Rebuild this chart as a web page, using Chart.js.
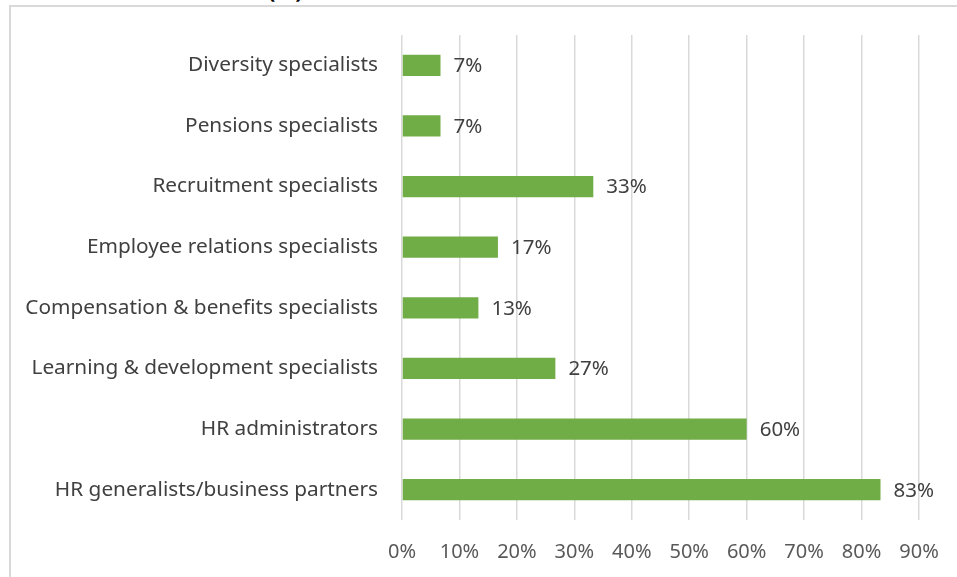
<!DOCTYPE html>
<html>
<head>
<meta charset="utf-8">
<script src="https://cdn.jsdelivr.net/npm/chart.js@4.4.1/dist/chart.umd.min.js"></script>
<style>
    html, body { margin: 0; padding: 0; background: #fff; overflow: hidden; }
    #wrap { position: relative; width: 957px; height: 577px; overflow: hidden; }
    #frame {
        position: absolute; left: 9px; top: 5px;
        width: 1000px; height: 700px;
        border: 2px solid #d9d9d9; box-sizing: border-box;
    }
    #title {
        position: absolute; left: 268px; top: -26px;
        font: bold 22px "Noto Sans", sans-serif; color: #000;
    }
    #staffChart { position: absolute; left: 0; top: 0; }
</style>
</head>
<body>
<div id="wrap">
    <div id="frame"></div>
    <div id="title">(%)</div>
    <canvas id="staffChart" width="957" height="577"></canvas>
</div>
<script>
// Roles and share of organisations employing them (%)
const roles = [
    'Diversity specialists',
    'Pensions specialists',
    'Recruitment specialists',
    'Employee relations specialists',
    'Compensation & benefits specialists',
    'Learning & development specialists',
    'HR administrators',
    'HR generalists/business partners'
];
const shares = [6.7, 6.7, 33.3, 16.7, 13.3, 26.7, 60, 83.3];
const xTicks = [0, 10, 20, 30, 40, 50, 60, 70, 80, 90];

const FONT = '"Noto Sans", sans-serif';

// Writes the rounded percentage just past the end of each bar
const valueLabels = {
    id: 'valueLabels',
    afterDatasetsDraw(chart) {
        const ctx = chart.ctx;
        const meta = chart.getDatasetMeta(0);
        ctx.save();
        ctx.font = '20.5px ' + FONT;
        ctx.fillStyle = '#404040';
        ctx.textAlign = 'left';
        ctx.textBaseline = 'middle';
        meta.data.forEach((bar, i) => {
            ctx.fillText(Math.round(shares[i]) + '%', bar.x + 13, bar.y + 1);
        });
        ctx.restore();
    }
};

const ctx = document.getElementById('staffChart').getContext('2d');
new Chart(ctx, {
    type: 'bar',
    data: {
        labels: roles,
        datasets: [{
            data: shares,
            backgroundColor: '#70ad47',
            borderWidth: 0,
            categoryPercentage: 1,
            barPercentage: 0.35
        }]
    },
    options: {
        indexAxis: 'y',
        responsive: false,
        animation: false,
        layout: { padding: { top: 35, right: 0, bottom: 0, left: 0 } },
        plugins: {
            legend: { display: false },
            tooltip: { enabled: false }
        },
        scales: {
            x: {
                min: 0,
                max: 90,
                afterBuildTicks: (scale) => {
                    scale.ticks = xTicks.map(v => ({ value: v }));
                },
                afterFit: (scale) => {
                    scale.height = 57;
                    scale.paddingRight = 38;
                },
                grid: { color: '#d9d9d9', lineWidth: 1.5, drawTicks: false },
                border: { display: false },
                ticks: {
                    color: '#595959',
                    font: { family: FONT, size: 20 },
                    padding: 20,
                    callback: (v) => v + '%'
                }
            },
            y: {
                afterFit: (scale) => { scale.width = 402; },
                grid: { display: false },
                border: { display: false },
                ticks: {
                    color: '#404040',
                    font: { family: FONT, size: 20.8 },
                    padding: 16
                }
            }
        }
    },
    plugins: [valueLabels]
});
</script>
</body>
</html>
